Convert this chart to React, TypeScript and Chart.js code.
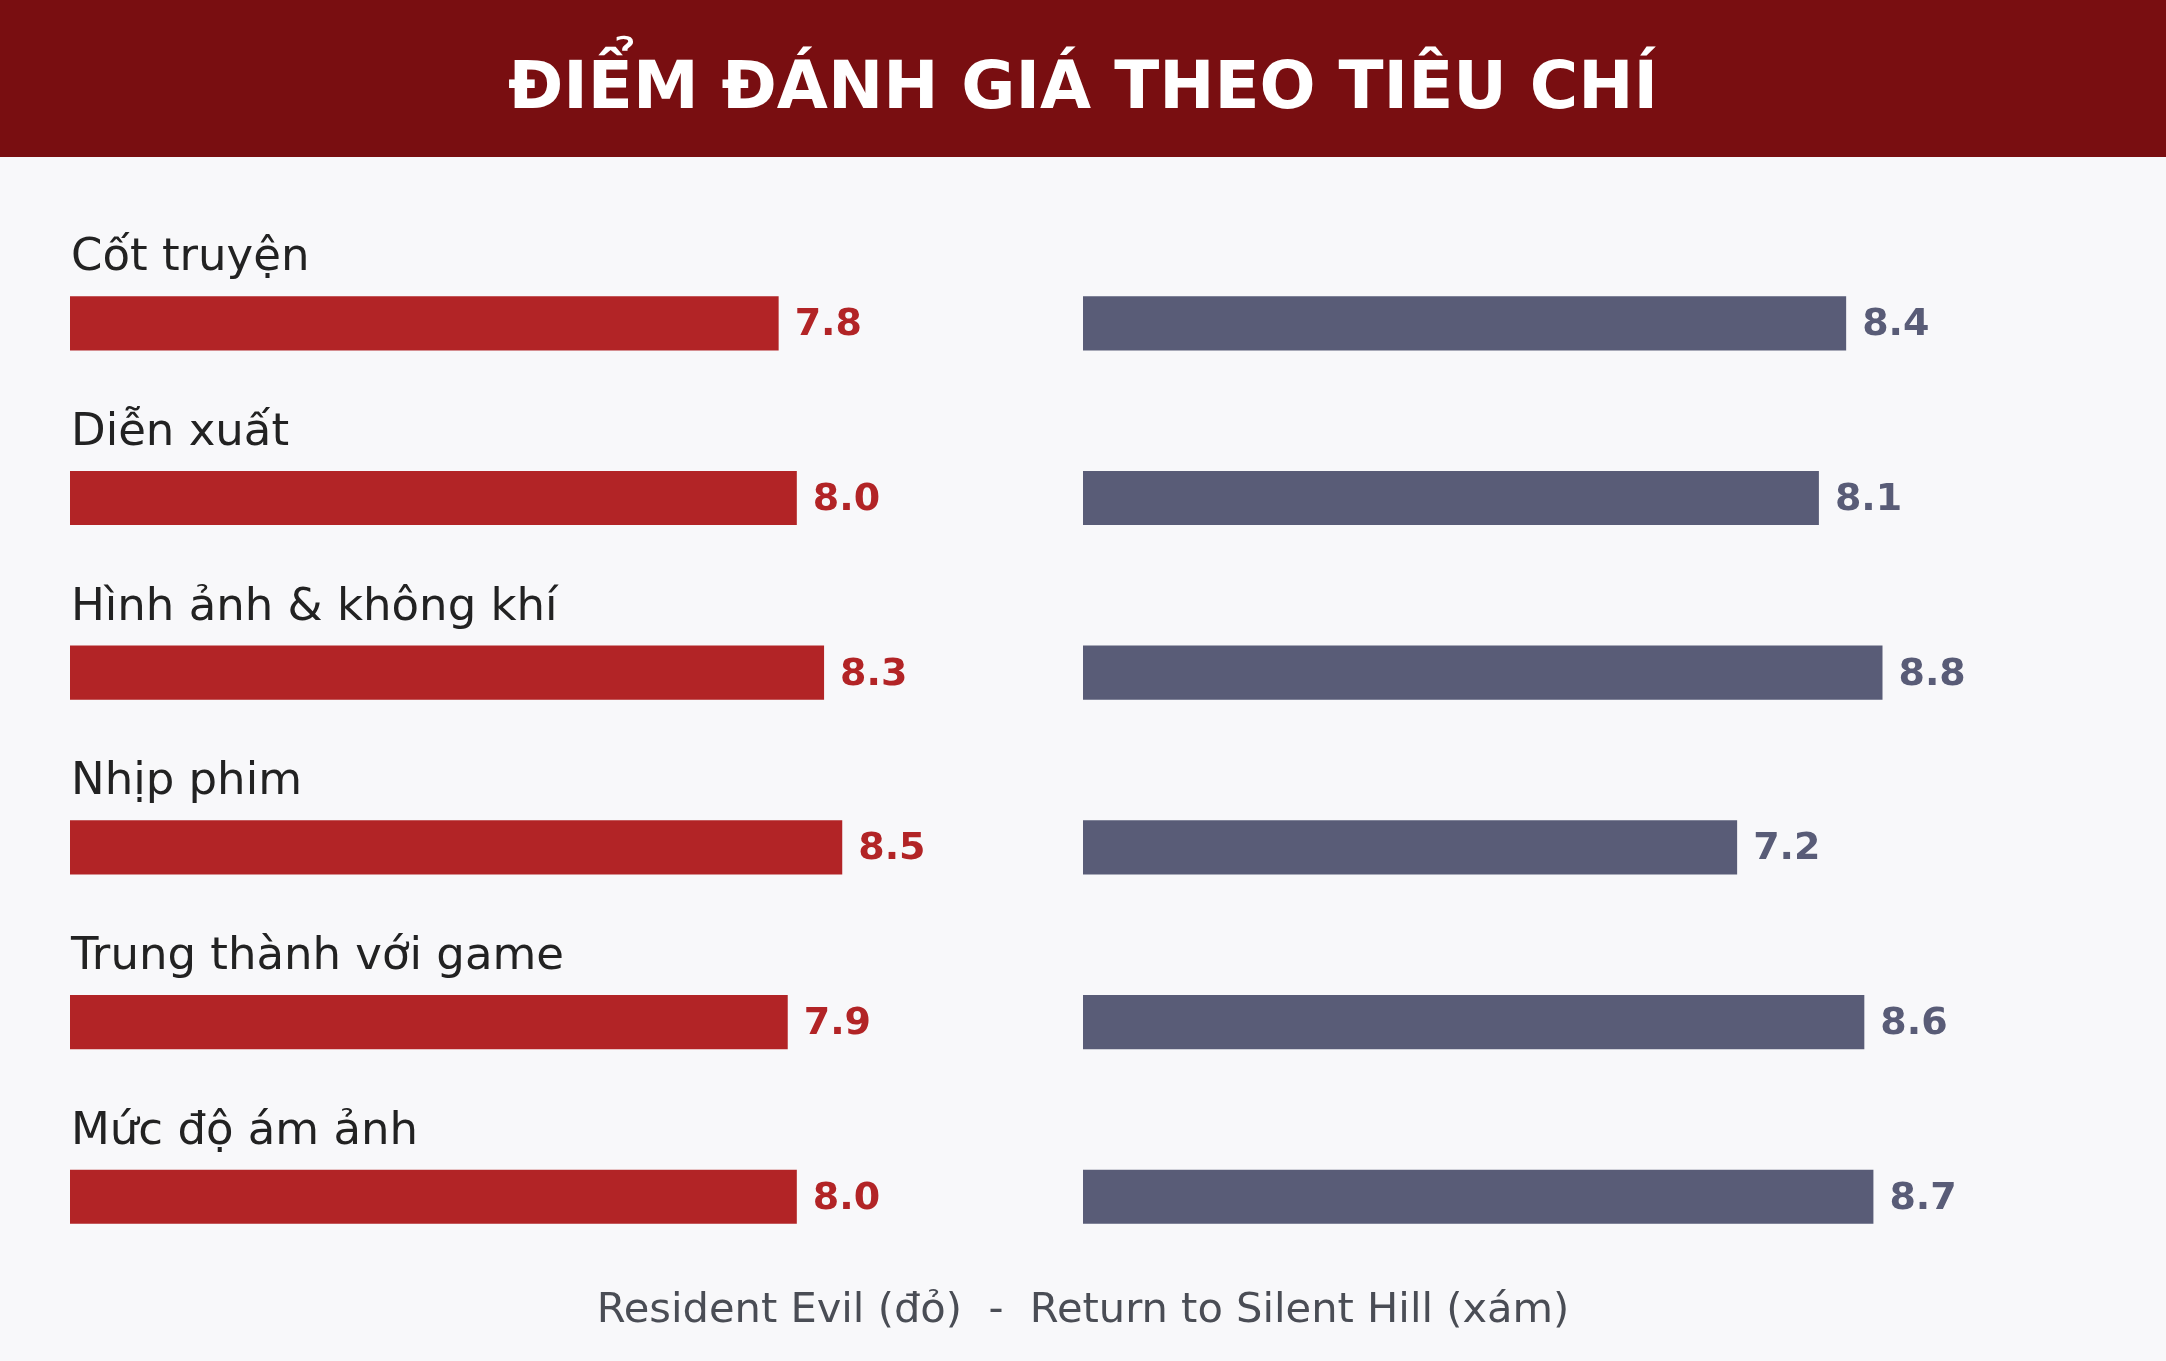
import { useEffect, useRef } from 'react'
import { Chart, registerables, type Plugin } from 'chart.js'

Chart.register(...registerables)

const CATEGORIES = ['Cốt truyện', 'Diễn xuất', 'Hình ảnh & không khí', 'Nhịp phim', 'Trung thành với game', 'Mức độ ám ảnh']
const RE_SCORES = [7.8, 8.0, 8.3, 8.5, 7.9, 8.0]
const SH_SCORES = [8.4, 8.1, 8.8, 7.2, 8.6, 8.7]

const TITLE = 'ĐIỂM ĐÁNH GIÁ THEO TIÊU CHÍ'
const FOOTER = 'Resident Evil (đỏ)  -  Return to Silent Hill (xám)'

const RED = '#b22426'
const GRAY = '#595c77'
const FONT = '"DejaVu Sans", "Noto Sans", sans-serif'

// row titles above the red bars + score after each bar
const rowLabels: Plugin<'bar'> = {
  id: 'rowLabels',
  afterDatasetsDraw(chart) {
    const ctx = chart.ctx
    ctx.save()
    chart.data.datasets.forEach((ds, di) => {
      const meta = chart.getDatasetMeta(di)
      const color = ds.backgroundColor as string
      meta.data.forEach((el, i) => {
        const { x, y, base, height } = el.getProps(['x', 'y', 'base', 'height'], true) as any
        if (di === 0) {
          ctx.font = `45px ${FONT}`
          ctx.fillStyle = '#222222'
          ctx.textAlign = 'left'
          ctx.textBaseline = 'alphabetic'
          ctx.fillText(CATEGORIES[i], base + 1, y - height / 2 - 26)
        }
        ctx.font = `bold 38px ${FONT}`
        ctx.fillStyle = color
        ctx.textAlign = 'left'
        ctx.textBaseline = 'middle'
        ctx.fillText((ds.data[i] as number).toFixed(1), x + 16, y + 2)
      })
    })
    ctx.restore()
  },
}

export default function App() {
  const canvasRef = useRef<HTMLCanvasElement | null>(null)

  useEffect(() => {
    document.body.style.margin = '0'
    document.body.style.background = '#f8f8fa'
    if (!canvasRef.current) return

    const chart = new Chart(canvasRef.current, {
      type: 'bar',
      data: {
        labels: CATEGORIES,
        datasets: [
          {
            label: 'Resident Evil',
            data: RE_SCORES,
            backgroundColor: RED,
            xAxisID: 'x',
            grouped: false,
            categoryPercentage: 1,
            barPercentage: 0.31,
          },
          {
            label: 'Return to Silent Hill',
            data: SH_SCORES,
            backgroundColor: GRAY,
            xAxisID: 'x2',
            grouped: false,
            categoryPercentage: 1,
            barPercentage: 0.31,
          },
        ],
      },
      options: {
        indexAxis: 'y',
        animation: false,
        responsive: true,
        maintainAspectRatio: false,
        layout: { padding: { top: 79, bottom: 25, left: 70, right: 70 } },
        plugins: {
          legend: { display: false },
          tooltip: { enabled: false },
          title: {
            display: true,
            position: 'bottom',
            text: FOOTER,
            color: '#4a4d55',
            font: { family: FONT, size: 41.6, weight: 'normal' },
            padding: { top: 2, bottom: 0 },
          },
        },
        scales: {
          y: { display: false, offset: true, grid: { display: false } },
          // two x axes side by side: left panel red, right panel gray
          x: { type: 'linear', position: 'bottom', min: 0, max: 11.15, display: false, stack: 'panels', stackWeight: 1 },
          x2: { type: 'linear', axis: 'x', position: 'bottom', min: 0, max: 11.15, display: false, stack: 'panels', stackWeight: 1 },
        },
      },
      plugins: [rowLabels],
    })

    return () => chart.destroy()
  }, [])

  return (
    <div style={{ width: '100%', background: '#f8f8fa' }}>
      <div
        style={{
          height: 157,
          boxSizing: 'border-box',
          paddingTop: 14,
          lineHeight: '143px',
          background: '#790e11',
          color: '#ffffff',
          textAlign: 'center',
          fontFamily: FONT,
          fontWeight: 'bold',
          fontSize: 66,
          overflow: 'hidden',
          whiteSpace: 'nowrap',
        }}
      >
        {TITLE}
      </div>
      <div style={{ position: 'relative', width: '100%', height: 1204 }}>
        <canvas ref={canvasRef} />
      </div>
    </div>
  )
}
